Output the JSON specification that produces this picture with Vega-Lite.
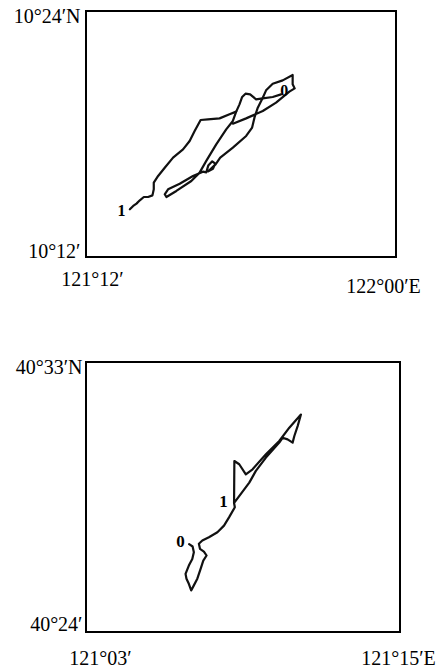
{
  "$schema": "https://vega.github.io/schema/vega-lite/v6.json",
  "padding": {"left": 12, "top": 5, "right": 5, "bottom": 3},
  "spacing": 59,
  "config": {
    "view": {"stroke": "#000", "strokeWidth": 2},
    "font": "Liberation Serif",
    "axis": {"grid": false, "ticks": false, "domain": false, "tickSize": 0, "title": null, "labelFont": "Liberation Serif", "labelFontSize": 20, "labelColor": "#000", "labelFlush": false, "labelOverlap": false}
  },
  "datasets": {
    "top": [
      {"seg": "a", "i": 1, "lon": 121.3132, "lat": 10.2388},
      {"seg": "a", "i": 2, "lon": 121.3218, "lat": 10.2415},
      {"seg": "a", "i": 3, "lon": 121.3303, "lat": 10.2434},
      {"seg": "a", "i": 4, "lon": 121.3389, "lat": 10.2461},
      {"seg": "a", "i": 5, "lon": 121.3492, "lat": 10.2488},
      {"seg": "a", "i": 6, "lon": 121.3603, "lat": 10.2488},
      {"seg": "a", "i": 7, "lon": 121.3715, "lat": 10.2501},
      {"seg": "a", "i": 8, "lon": 121.3749, "lat": 10.2550},
      {"seg": "a", "i": 9, "lon": 121.3749, "lat": 10.2604},
      {"seg": "a", "i": 10, "lon": 121.3861, "lat": 10.2659},
      {"seg": "a", "i": 11, "lon": 121.4032, "lat": 10.2726},
      {"seg": "a", "i": 12, "lon": 121.4247, "lat": 10.2808},
      {"seg": "a", "i": 13, "lon": 121.4504, "lat": 10.2875},
      {"seg": "a", "i": 14, "lon": 121.4675, "lat": 10.2943},
      {"seg": "a", "i": 15, "lon": 121.4804, "lat": 10.3024},
      {"seg": "a", "i": 16, "lon": 121.4958, "lat": 10.3114},
      {"seg": "a", "i": 17, "lon": 121.5147, "lat": 10.3119},
      {"seg": "a", "i": 18, "lon": 121.5447, "lat": 10.3127},
      {"seg": "a", "i": 19, "lon": 121.5704, "lat": 10.3160},
      {"seg": "a", "i": 20, "lon": 121.5876, "lat": 10.3182},
      {"seg": "a", "i": 21, "lon": 121.5961, "lat": 10.3241},
      {"seg": "a", "i": 22, "lon": 121.6030, "lat": 10.3301},
      {"seg": "a", "i": 23, "lon": 121.6116, "lat": 10.3328},
      {"seg": "a", "i": 24, "lon": 121.6236, "lat": 10.3322},
      {"seg": "a", "i": 25, "lon": 121.6390, "lat": 10.3282},
      {"seg": "a", "i": 26, "lon": 121.6562, "lat": 10.3290},
      {"seg": "a", "i": 27, "lon": 121.6819, "lat": 10.3301},
      {"seg": "a", "i": 28, "lon": 121.7033, "lat": 10.3322},
      {"seg": "b", "i": 1, "lon": 121.5876, "lat": 10.3182},
      {"seg": "b", "i": 2, "lon": 121.5790, "lat": 10.3106},
      {"seg": "b", "i": 3, "lon": 121.5618, "lat": 10.3038},
      {"seg": "b", "i": 4, "lon": 121.5361, "lat": 10.2916},
      {"seg": "b", "i": 5, "lon": 121.5104, "lat": 10.2781},
      {"seg": "b", "i": 6, "lon": 121.4932, "lat": 10.2686},
      {"seg": "b", "i": 7, "lon": 121.4718, "lat": 10.2618},
      {"seg": "b", "i": 8, "lon": 121.4332, "lat": 10.2537},
      {"seg": "b", "i": 9, "lon": 121.4075, "lat": 10.2488},
      {"seg": "b", "i": 10, "lon": 121.4032, "lat": 10.2510},
      {"seg": "b", "i": 11, "lon": 121.4118, "lat": 10.2550},
      {"seg": "b", "i": 12, "lon": 121.4418, "lat": 10.2596},
      {"seg": "b", "i": 13, "lon": 121.4761, "lat": 10.2659},
      {"seg": "b", "i": 14, "lon": 121.5018, "lat": 10.2694},
      {"seg": "b", "i": 15, "lon": 121.5104, "lat": 10.2688},
      {"seg": "b", "i": 16, "lon": 121.5155, "lat": 10.2743},
      {"seg": "b", "i": 17, "lon": 121.5258, "lat": 10.2778},
      {"seg": "b", "i": 18, "lon": 121.5336, "lat": 10.2759},
      {"seg": "b", "i": 19, "lon": 121.5276, "lat": 10.2718},
      {"seg": "b", "i": 20, "lon": 121.5155, "lat": 10.2697},
      {"seg": "b", "i": 21, "lon": 121.5344, "lat": 10.2753},
      {"seg": "b", "i": 22, "lon": 121.5464, "lat": 10.2808},
      {"seg": "b", "i": 23, "lon": 121.5790, "lat": 10.2889},
      {"seg": "b", "i": 24, "lon": 121.6133, "lat": 10.2984},
      {"seg": "b", "i": 25, "lon": 121.6287, "lat": 10.3052},
      {"seg": "b", "i": 26, "lon": 121.6347, "lat": 10.3133},
      {"seg": "b", "i": 27, "lon": 121.6433, "lat": 10.3214},
      {"seg": "b", "i": 28, "lon": 121.6562, "lat": 10.3295},
      {"seg": "b", "i": 29, "lon": 121.6647, "lat": 10.3355},
      {"seg": "b", "i": 30, "lon": 121.6819, "lat": 10.3409},
      {"seg": "b", "i": 31, "lon": 121.7076, "lat": 10.3436},
      {"seg": "b", "i": 32, "lon": 121.7333, "lat": 10.3480},
      {"seg": "b", "i": 33, "lon": 121.7333, "lat": 10.3404},
      {"seg": "b", "i": 34, "lon": 121.7385, "lat": 10.3371},
      {"seg": "b", "i": 35, "lon": 121.7248, "lat": 10.3344},
      {"seg": "b", "i": 36, "lon": 121.6905, "lat": 10.3255},
      {"seg": "b", "i": 37, "lon": 121.6562, "lat": 10.3187},
      {"seg": "b", "i": 38, "lon": 121.6133, "lat": 10.3127},
      {"seg": "b", "i": 39, "lon": 121.5790, "lat": 10.3084}
    ],
    "topLabels": [
      {"label": "1", "lon": 121.2917, "lat": 10.2374},
      {"label": "0", "lon": 121.7119, "lat": 10.3350}
    ],
    "bottom": [
      {"i": 1, "lon": 121.1157, "lat": 40.4488},
      {"i": 2, "lon": 121.1179, "lat": 40.4475},
      {"i": 3, "lon": 121.1187, "lat": 40.4443},
      {"i": 4, "lon": 121.1177, "lat": 40.4406},
      {"i": 5, "lon": 121.1155, "lat": 40.4369},
      {"i": 6, "lon": 121.1134, "lat": 40.4323},
      {"i": 7, "lon": 121.1140, "lat": 40.4296},
      {"i": 8, "lon": 121.1155, "lat": 40.4268},
      {"i": 9, "lon": 121.1170, "lat": 40.4231},
      {"i": 10, "lon": 121.1187, "lat": 40.4259},
      {"i": 11, "lon": 121.1209, "lat": 40.4296},
      {"i": 12, "lon": 121.1230, "lat": 40.4351},
      {"i": 13, "lon": 121.1247, "lat": 40.4397},
      {"i": 14, "lon": 121.1268, "lat": 40.4425},
      {"i": 15, "lon": 121.1251, "lat": 40.4447},
      {"i": 16, "lon": 121.1226, "lat": 40.4462},
      {"i": 17, "lon": 121.1219, "lat": 40.4490},
      {"i": 18, "lon": 121.1241, "lat": 40.4508},
      {"i": 19, "lon": 121.1283, "lat": 40.4526},
      {"i": 20, "lon": 121.1337, "lat": 40.4554},
      {"i": 21, "lon": 121.1379, "lat": 40.4591},
      {"i": 22, "lon": 121.1411, "lat": 40.4637},
      {"i": 23, "lon": 121.1448, "lat": 40.4693},
      {"i": 24, "lon": 121.1443, "lat": 40.4717},
      {"i": 25, "lon": 121.1445, "lat": 40.4950},
      {"i": 26, "lon": 121.1476, "lat": 40.4932},
      {"i": 27, "lon": 121.1518, "lat": 40.4876},
      {"i": 28, "lon": 121.1561, "lat": 40.4904},
      {"i": 29, "lon": 121.1646, "lat": 40.4987},
      {"i": 30, "lon": 121.1731, "lat": 40.5061},
      {"i": 31, "lon": 121.1795, "lat": 40.5135},
      {"i": 32, "lon": 121.1869, "lat": 40.5208},
      {"i": 33, "lon": 121.1848, "lat": 40.5144},
      {"i": 34, "lon": 121.1827, "lat": 40.5089},
      {"i": 35, "lon": 121.1816, "lat": 40.5052},
      {"i": 36, "lon": 121.1784, "lat": 40.5070},
      {"i": 37, "lon": 121.1752, "lat": 40.5079},
      {"i": 38, "lon": 121.1731, "lat": 40.5052},
      {"i": 39, "lon": 121.1646, "lat": 40.4969},
      {"i": 40, "lon": 121.1582, "lat": 40.4895},
      {"i": 41, "lon": 121.1540, "lat": 40.4830},
      {"i": 42, "lon": 121.1446, "lat": 40.4720}
    ],
    "bottomLabels": [
      {"label": "0", "lon": 121.1102, "lat": 40.4499},
      {"label": "1", "lon": 121.1375, "lat": 40.4720}
    ]
  },
  "vconcat": [
    {
      "width": 310,
      "height": 246,
      "layer": [
        {
          "data": {"name": "top"},
          "mark": {"type": "line", "color": "#111", "strokeWidth": 2.2, "strokeJoin": "round", "strokeCap": "round"},
          "encoding": {
            "x": {"field": "lon", "type": "quantitative", "scale": {"domain": [121.2, 122.0], "nice": false, "zero": false},
              "axis": {"values": [121.2, 122.0], "labelExpr": "datum.value < 121.5 ? '121°12′' : '122°00′E'", "labelBaseline": "middle",
                "labelPadding": {"condition": {"test": "datum.value < 121.5", "value": 22}, "value": 29},
                "labelOffset": {"condition": {"test": "datum.value < 121.5", "value": 6}, "value": -13}}},
            "y": {"field": "lat", "type": "quantitative", "scale": {"domain": [10.2, 10.4], "nice": false, "zero": false},
              "axis": {"values": [10.2, 10.4], "labelExpr": "datum.value > 10.3 ? '10°24′N' : '10°12′'", "labelBaseline": "middle", "labelPadding": 6,
                "labelOffset": {"condition": {"test": "datum.value > 10.3", "value": 5}, "value": -6}}},
            "detail": {"field": "seg"},
            "order": {"field": "i"}
          }
        },
        {
          "data": {"name": "topLabels"},
          "mark": {"type": "text", "font": "Liberation Serif", "fontWeight": "bold", "fontSize": 16, "color": "#000"},
          "encoding": {
            "x": {"field": "lon", "type": "quantitative"},
            "y": {"field": "lat", "type": "quantitative"},
            "text": {"field": "label"}
          }
        }
      ]
    },
    {
      "width": 314,
      "height": 270,
      "layer": [
        {
          "data": {"name": "bottom"},
          "mark": {"type": "line", "color": "#111", "strokeWidth": 2.2, "strokeJoin": "round", "strokeCap": "round"},
          "encoding": {
            "x": {"field": "lon", "type": "quantitative", "scale": {"domain": [121.05, 121.25], "nice": false, "zero": false},
              "axis": {"values": [121.05, 121.25], "labelExpr": "datum.value < 121.15 ? '121°03′' : '121°15′E'", "labelBaseline": "middle",
                "labelPadding": 26,
                "labelOffset": {"condition": {"test": "datum.value < 121.15", "value": 14}, "value": -2}}},
            "y": {"field": "lat", "type": "quantitative", "scale": {"domain": [40.4, 40.55], "nice": false, "zero": false},
              "axis": {"values": [40.4, 40.55], "labelExpr": "datum.value > 40.5 ? '40°33′N' : '40°24′'", "labelBaseline": "middle", "labelPadding": 4,
                "labelOffset": {"condition": {"test": "datum.value > 40.5", "value": 5}, "value": -8}}},
            "order": {"field": "i"}
          }
        },
        {
          "data": {"name": "bottomLabels"},
          "mark": {"type": "text", "font": "Liberation Serif", "fontWeight": "bold", "fontSize": 17, "color": "#000"},
          "encoding": {
            "x": {"field": "lon", "type": "quantitative"},
            "y": {"field": "lat", "type": "quantitative"},
            "text": {"field": "label"}
          }
        }
      ]
    }
  ]
}
